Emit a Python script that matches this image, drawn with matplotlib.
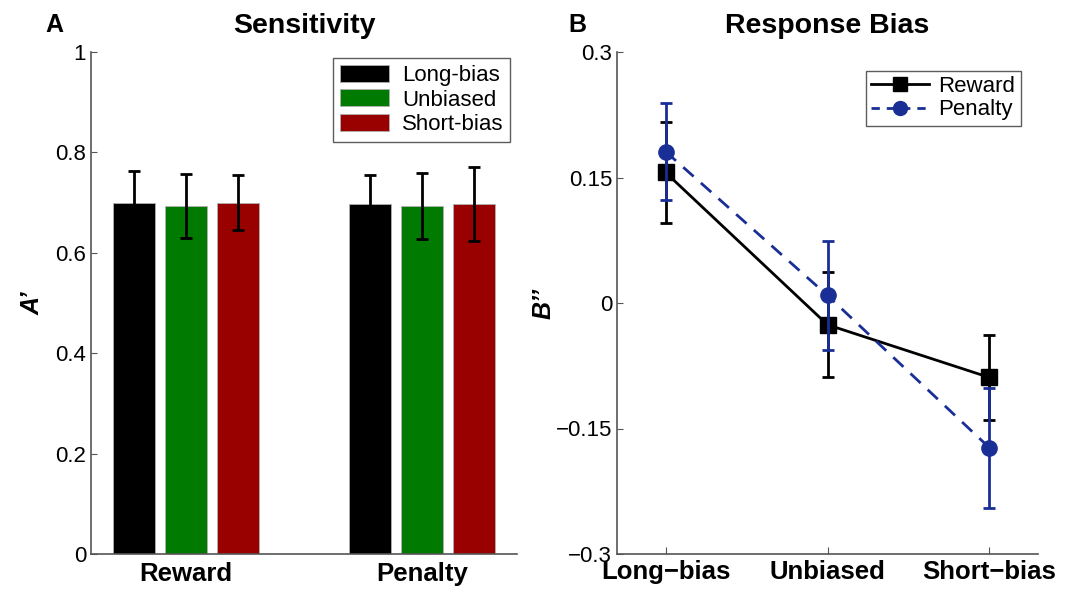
import numpy as np
import matplotlib.pyplot as plt
from matplotlib.lines import Line2D

plt.rcParams['font.family'] = ['Liberation Sans', 'DejaVu Sans']

# ---- data ----
groups = ['Reward', 'Penalty']
conditions = ['Long-bias', 'Unbiased', 'Short-bias']
bar_colors = ['#000000', '#007a00', '#990000']
sens_mean = [[0.700, 0.693, 0.700],   # Reward
             [0.697, 0.693, 0.697]]   # Penalty
sens_err = [[0.062, 0.064, 0.055],
            [0.058, 0.065, 0.074]]

bias_labels = ['Long\u2212bias', 'Unbiased', 'Short\u2212bias']
reward_bias = [0.156, -0.026, -0.089]
reward_err = [0.060, 0.063, 0.051]
penalty_bias = [0.181, 0.009, -0.173]
penalty_err = [0.058, 0.065, 0.072]

blue = '#1a2f96'
W, H = 1077, 593
fig = plt.figure(figsize=(W / 100, H / 100), dpi=100)

# ---- panel A: sensitivity ----
ax1 = fig.add_axes([91 / W, 1 - 554 / H, 426 / W, 502 / H])
x = np.arange(1, len(groups) + 1)
offs = [-0.22, 0, 0.22]
for j, cond in enumerate(conditions):
    vals = [sens_mean[g][j] for g in range(len(groups))]
    errs = [sens_err[g][j] for g in range(len(groups))]
    ax1.bar(x + offs[j], vals, width=0.178, color=bar_colors[j], label=cond,
            edgecolor='#b0b0b0', linewidth=0.6, zorder=2)
    ax1.errorbar(x + offs[j], vals, yerr=errs, fmt='none', ecolor='black',
                 elinewidth=2, capsize=4, capthick=2, zorder=3)
ax1.set_xlim(0.6, 2.4)
ax1.set_ylim(0, 1)
ax1.set_yticks([0, 0.2, 0.4, 0.6, 0.8, 1])
ax1.set_yticklabels(['0', '0.2', '0.4', '0.6', '0.8', '1'])
ax1.set_xticks(x)
ax1.set_xticklabels(groups, fontweight='bold', fontsize=18.5)
ax1.tick_params(axis='x', length=0, pad=6)
ax1.tick_params(axis='y', direction='in', length=4, labelsize=16, color='#555555')
ax1.set_ylabel('A\u2019', fontsize=18, fontweight='bold', fontstyle='italic', labelpad=8)
ax1.set_title('Sensitivity', fontsize=20.5, fontweight='bold', pad=14)
ax1.text(-0.085, 1.03, 'A', transform=ax1.transAxes, fontsize=18, fontweight='bold',
         ha='center', va='bottom')
leg1 = ax1.legend(loc='upper right', fontsize=16, frameon=True, fancybox=False,
                  edgecolor='#333333', handlelength=2.2, handleheight=0.8,
                  borderpad=0.3, labelspacing=0.15, handletextpad=0.6,
                  bbox_to_anchor=(1.01, 1.01))
leg1.get_frame().set_linewidth(1.0)
for s in ['top', 'right']:
    ax1.spines[s].set_visible(False)
for s in ['left', 'bottom']:
    ax1.spines[s].set_color('#555555')
    ax1.spines[s].set_linewidth(1.2)

# ---- panel B: response bias ----
ax2 = fig.add_axes([617 / W, 1 - 554 / H, 421 / W, 502 / H])
xb = np.arange(1, len(bias_labels) + 1)
ax2.errorbar(xb, reward_bias, yerr=reward_err, color='black', linestyle='-',
             linewidth=2, marker='s', markersize=11, elinewidth=2, capsize=4,
             capthick=2, zorder=3)
ax2.errorbar(xb, penalty_bias, yerr=penalty_err, color=blue, linestyle=(0, (5, 3.5)),
             linewidth=2, marker='o', markersize=11, elinewidth=2, capsize=4,
             capthick=2, zorder=4)
ax2.set_xlim(0.7, 3.3)
ax2.set_ylim(-0.3, 0.3)
ax2.set_yticks([-0.3, -0.15, 0, 0.15, 0.3])
ax2.set_yticklabels(['\u22120.3', '\u22120.15', '0', '0.15', '0.3'])
ax2.set_xticks(xb)
ax2.set_xticklabels(bias_labels, fontweight='bold', fontsize=18.5)
ax2.tick_params(axis='x', direction='in', length=5, pad=4, color='#555555')
ax2.tick_params(axis='y', direction='in', length=4, labelsize=16, color='#555555')
ax2.set_ylabel('B\u2019\u2019', fontsize=18, fontweight='bold', fontstyle='italic', labelpad=0)
ax2.set_title('Response Bias', fontsize=20.5, fontweight='bold', pad=14)
ax2.text(-0.093, 1.03, 'B', transform=ax2.transAxes, fontsize=18, fontweight='bold',
         ha='center', va='bottom')
handles = [Line2D([], [], color='black', linewidth=2, marker='s', markersize=10),
           Line2D([], [], color=blue, linewidth=2, linestyle=(0, (3, 2.5)),
                  marker='o', markersize=10)]
leg2 = ax2.legend(handles, ['Reward', 'Penalty'], loc='upper right', fontsize=16,
                  frameon=True, fancybox=False, edgecolor='#333333',
                  handlelength=2.6, borderpad=0.25, labelspacing=0.1,
                  handletextpad=0.4, bbox_to_anchor=(0.985, 0.985))
leg2.get_frame().set_linewidth(1.0)
for s in ['top', 'right']:
    ax2.spines[s].set_visible(False)
for s in ['left', 'bottom']:
    ax2.spines[s].set_color('#555555')
    ax2.spines[s].set_linewidth(1.2)

fig.savefig('out.png', dpi=100)
